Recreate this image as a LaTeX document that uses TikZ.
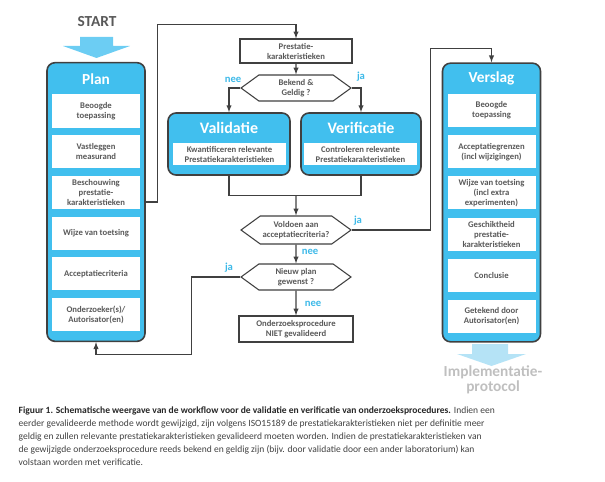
\documentclass[tikz,border=0pt]{standalone}
\usepackage{fontspec}
\setmainfont{Carlito}
\usetikzlibrary{shapes.symbols, arrows, positioning}

\definecolor{blauw}{HTML}{41BFEE}
\definecolor{startblauw}{HTML}{6CCDF3}
\definecolor{lichtblauw}{HTML}{B5E3F6}
\definecolor{rand}{HTML}{404040}
\definecolor{tekst}{HTML}{595959}
\definecolor{janee}{HTML}{3DB9E8}
\definecolor{grijs}{HTML}{BFBFBF}

\tikzset{
  blok/.style={draw=rand, line width=1.2pt, fill=blauw, rounded corners=6pt, inner sep=0pt},
  kop/.style={text=white, font=\fontsize{11.5}{13}\selectfont\bfseries},
  item/.style={fill=white, inner sep=0pt, minimum width=66pt, minimum height=24.75pt,
    align=center, text=tekst, font=\fontsize{6.5}{7.5}\selectfont\bfseries},
  kader/.style={draw=rand, line width=0.8pt, fill=white, inner sep=0pt, align=center,
    text=tekst, font=\fontsize{6.5}{7.5}\selectfont\bfseries},
  beslis/.style={kader, signal, signal to=west and east, signal pointer angle=72,
    minimum width=82.5pt, minimum height=19.5pt},
  lijn/.style={draw=rand, line width=0.8pt},
  pijl/.style={lijn, -latex},
  antw/.style={text=janee, font=\fontsize{8}{9}\selectfont\bfseries},
}

\begin{document}
\begin{tikzpicture}[x=0.75pt, y=-0.75pt]
    \useasboundingbox (0,0) rectangle (605,481);

    % Start
    \node[text=tekst, font=\fontsize{11.5}{13}\selectfont\bfseries] (start) at (97,22) {START};
    \fill[startblauw] (80,37) -- (113,37) -- (113,46) -- (130,46) -- (96.5,58)
        -- (63,46) -- (80,46) -- cycle;

    % Plan
    \node[blok, minimum width=73.5pt, minimum height=209pt] (plan) at (96,202) {};
    \node[kop] (plan-kop) at (96,79) {Plan};
    \foreach \tekst [count=\i] in {{Beoogde\\toepassing}, {Vastleggen\\measurand},
        {Beschouwing\\prestatie-\\karakteristieken}, {Wijze van toetsing},
        {Acceptatiecriteria}, {Onderzoeker(s)/\\Autorisator(en)}}
        \node[item] (plan-\i) at (96,{111+40.7*(\i-1)}) {\tekst};

    % Verslag
    \node[blok, minimum width=73.5pt, minimum height=209pt] (verslag) at (491.5,202.5) {};
    \node[kop] (verslag-kop) at (491.5,78) {Verslag};
    \foreach \tekst [count=\i] in {{Beoogde\\toepassing}, {Acceptatiegrenzen\\(incl wijzigingen)},
        {Wijze van toetsing\\(incl extra\\experimenten)}, {Geschiktheid\\prestatie-\\karakteristieken},
        {Conclusie}, {Getekend door\\Autorisator(en)}}
        \node[item] (verslag-\i) at (491.5,{110.5+41.2*(\i-1)}) {\tekst};

    % Implementatie
    \fill[lichtblauw] (472,344) -- (508,344) -- (508,354) -- (526,354) -- (491.5,366)
        -- (457,354) -- (472,354) -- cycle;
    \node[text=grijs, align=center, font=\fontsize{11.5}{11}\selectfont\bfseries] (impl)
        at (493,379.5) {Implementatie-\\protocol};

    % Midden
    \node[kader, minimum width=84pt, minimum height=18pt] (prestatie) at (296,51)
        {Prestatie-\\karakteristieken};
    \node[beslis] (bekend) at (296,88) {Bekend \&\\Geldig ?};

    \node[blok, minimum width=91.5pt, minimum height=46.5pt] (validatie) at (229,144) {};
    \node[kop, font=\fontsize{12}{14}\selectfont\bfseries] (validatie-kop) at (229,128) {Validatie};
    \node[item, minimum width=84.75pt, minimum height=16.5pt] (validatie-tekst) at (229.5,154)
        {Kwantificeren relevante\\Prestatiekarakteristieken};

    \node[blok, minimum width=90pt, minimum height=46.5pt] (verificatie) at (361,144) {};
    \node[kop, font=\fontsize{12}{14}\selectfont\bfseries] (verificatie-kop) at (361,128) {Verificatie};
    \node[item, minimum width=84.75pt, minimum height=16.5pt] (verificatie-tekst) at (360.5,154)
        {Controleren relevante\\Prestatiekarakteristieken};

    \node[beslis, minimum height=21pt] (voldoen) at (296,230) {Voldoen aan\\acceptatiecriteria?};
    \node[beslis] (nieuw) at (296,277) {Nieuw plan\\gewenst ?};
    \node[kader, minimum width=85.5pt, minimum height=19.5pt] (onderzoek) at (296,329)
        {Onderzoeksprocedure\\NIET gevalideerd};

    % Verbindingen
    \draw[pijl] (plan.east) -- ++(12,0) |- ([yshift=10.5pt]prestatie.north) -- (prestatie.north);
    \draw[pijl] (prestatie) -- (bekend);
    \draw[pijl] (bekend.west) -| (validatie.north);
    \draw[pijl] (bekend.east) -| (verificatie.north);
    \draw[lijn] (validatie.south) -- ++(0,20) -| (verificatie.south);
    \coordinate (samen) at (296,195);
    \draw[pijl] (samen) -- (voldoen);
    \draw[pijl] (voldoen.east) -- ++(79,0) |- ([yshift=10.5pt]verslag.north) -- (verslag.north);
    \draw[pijl] (voldoen) -- (nieuw);
    \draw[pijl] (nieuw.west) -- ++(-49,0) |- ([yshift=-9.4pt]plan.south) -- (plan.south);
    \draw[pijl] (nieuw) -- (onderzoek);

    % Antwoorden
    \node[antw] (nee-1) at (233,80) {nee};
    \node[antw] (ja-1) at (361,77) {ja};
    \node[antw] (ja-2) at (358,221) {ja};
    \node[antw] (nee-2) at (310,252) {nee};
    \node[antw] (ja-3) at (229,268) {ja};
    \node[antw] (nee-3) at (313,304) {nee};

    % Bijschrift
    \node[anchor=north west, align=left, text=rand, font=\fontsize{7.15}{9.75}\selectfont]
        (bijschrift) at (14,402) {\textbf{\color{black!85}Figuur 1. Schematische weergave van de
        workflow voor de validatie en verificatie van onderzoeksprocedures.} Indien een\\
        eerder gevalideerde methode wordt gewijzigd, zijn volgens ISO15189 de prestatiekarakteristieken
        niet per definitie meer\\
        geldig en zullen relevante prestatiekarakteristieken gevalideerd moeten worden. Indien de
        prestatiekarakteristieken van\\
        de gewijzigde onderzoeksprocedure reeds bekend en geldig zijn (bijv. door validatie door een
        ander laboratorium) kan\\
        volstaan worden met verificatie.};
\end{tikzpicture}
\end{document}
